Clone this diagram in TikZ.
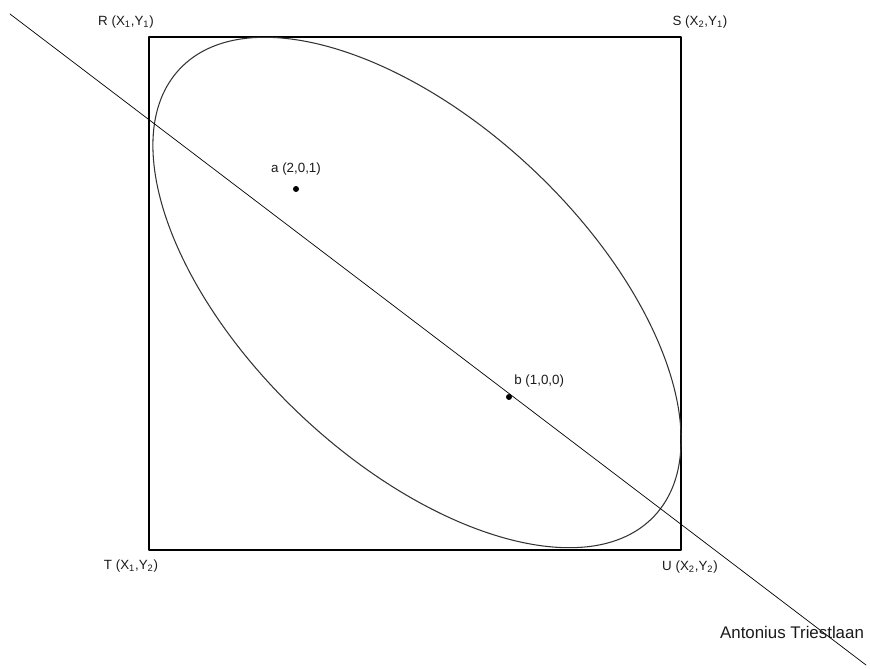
\documentclass[tikz,border=0pt]{standalone}
\usepackage{fontspec}
\setmainfont{Liberation Sans}
\usetikzlibrary{calc,positioning}
\definecolor{PLink}{HTML}{1A1A1A}
\definecolor{PLline}{HTML}{333333}

\begin{document}
\begin{tikzpicture}[
  x=0.25mm,y=0.25mm,
  line cap=round,line join=round,
  plot/.style={draw=black,line width=1.5pt},
  contour/.style={draw=PLline,line width=0.75pt},
  road/.style={draw=black,line width=0.5pt},
  corner/.style={font=\fontsize{9.5}{11}\selectfont,text=PLink,inner sep=0pt},
  spot/.style={circle,fill=black,inner sep=0pt,minimum size=1.5mm},
  spotlabel/.style={font=\fontsize{9.5}{11}\selectfont,text=PLink,inner sep=0pt},
  street/.style={font=\fontsize{12}{14}\selectfont,text=PLink,inner sep=0pt}
]

% page is 870 x 669 px, y runs downwards as negative
\useasboundingbox (0,-669) rectangle (870,0);

% plot corners
\coordinate (R) at (149,-37);
\coordinate (S) at (681,-37);
\coordinate (T) at (149,-550);
\coordinate (U) at (681,-550);
\draw[plot] (R) -- (S) -- (U) -- (T) -- cycle;

\node[corner] (labR) at (126,-22) {R (X\textsubscript{1},Y\textsubscript{1})};
\node[corner] (labS) at (700,-22) {S (X\textsubscript{2},Y\textsubscript{1})};
\node[corner] (labT) at (131,-566) {T (X\textsubscript{1},Y\textsubscript{2})};
\node[corner] (labU) at (690,-567) {U (X\textsubscript{2},Y\textsubscript{2})};

% tilted contour
\draw[contour,shift={(417,-292.5)},rotate=-43.3]
  (0,0) ellipse [x radius=81.5mm,y radius=42.25mm];

% road through b
\coordinate (roadstart) at (10,-14);
\coordinate (roadend) at (866,-665);
\draw[road] (roadstart) -- (roadend);

\node[spot] (a) at (296,-189) {};
\node[spot] (b) at (509,-397) {};
\node[spotlabel,above=2.5mm of a] (laba) {a (2,0,1)};
\node[spotlabel,anchor=south west] (labb) at (514,-388) {b (1,0,0)};

\node[street] (street) at (792,-632) {Antonius Triestlaan};

\end{tikzpicture}
\end{document}
